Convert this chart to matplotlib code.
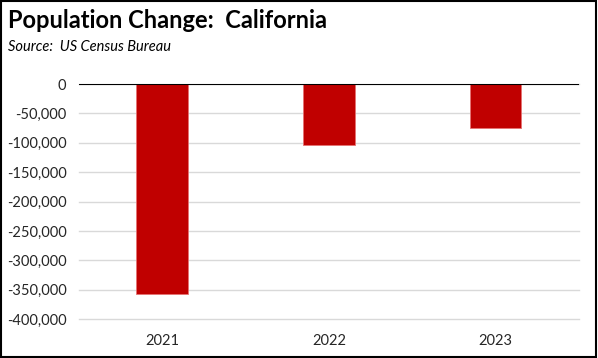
import matplotlib.pyplot as plt
from matplotlib.ticker import FuncFormatter
from matplotlib.patches import Rectangle

# Data
years = ['2021', '2022', '2023']
change = [-357000, -104000, -75000]
yticks = [0, -50000, -100000, -150000, -200000, -250000, -300000, -350000, -400000]

plt.rcParams['font.family'] = 'Lato'

fig = plt.figure(figsize=(5.98, 3.58), dpi=100)
ax = fig.add_axes([0.1321, 0.1089, 0.836, 0.6564])

ax.bar(range(len(years)), change, width=0.31, color='#C00000',
       edgecolor='#e57373', linewidth=0.6, zorder=3)

ax.set_xlim(-0.5, 2.5)
ax.set_ylim(-400000, 0)
ax.set_yticks(yticks)
ax.yaxis.set_major_formatter(FuncFormatter(lambda v, p: f'{int(v):,}'))
ax.set_xticks(range(len(years)))
ax.set_xticklabels(years)

ax.grid(axis='y', color='#d9d9d9', linewidth=1, zorder=0)
for gl in ax.get_ygridlines():
    gl.set_clip_on(False)
ax.axhline(0, color='black', linewidth=1.5, zorder=4)
for s in ax.spines.values():
    s.set_visible(False)
ax.tick_params(length=0, labelsize=10.5, colors='#262626', pad=9)
ax.tick_params(axis='x', pad=11)

# Titles
fig.text(0.014, 0.922, 'Population Change:  California', fontsize=17,
         fontweight='bold', va='baseline')
fig.text(0.014, 0.858, 'Source:  US Census Bureau', fontsize=10.5,
         style='italic', va='baseline')

# Border around the chart
fig.add_artist(Rectangle((0.002, 0.003), 0.995, 0.994, transform=fig.transFigure,
                         fill=False, edgecolor='black', linewidth=1.5))

plt.savefig('out.png', dpi=100)
